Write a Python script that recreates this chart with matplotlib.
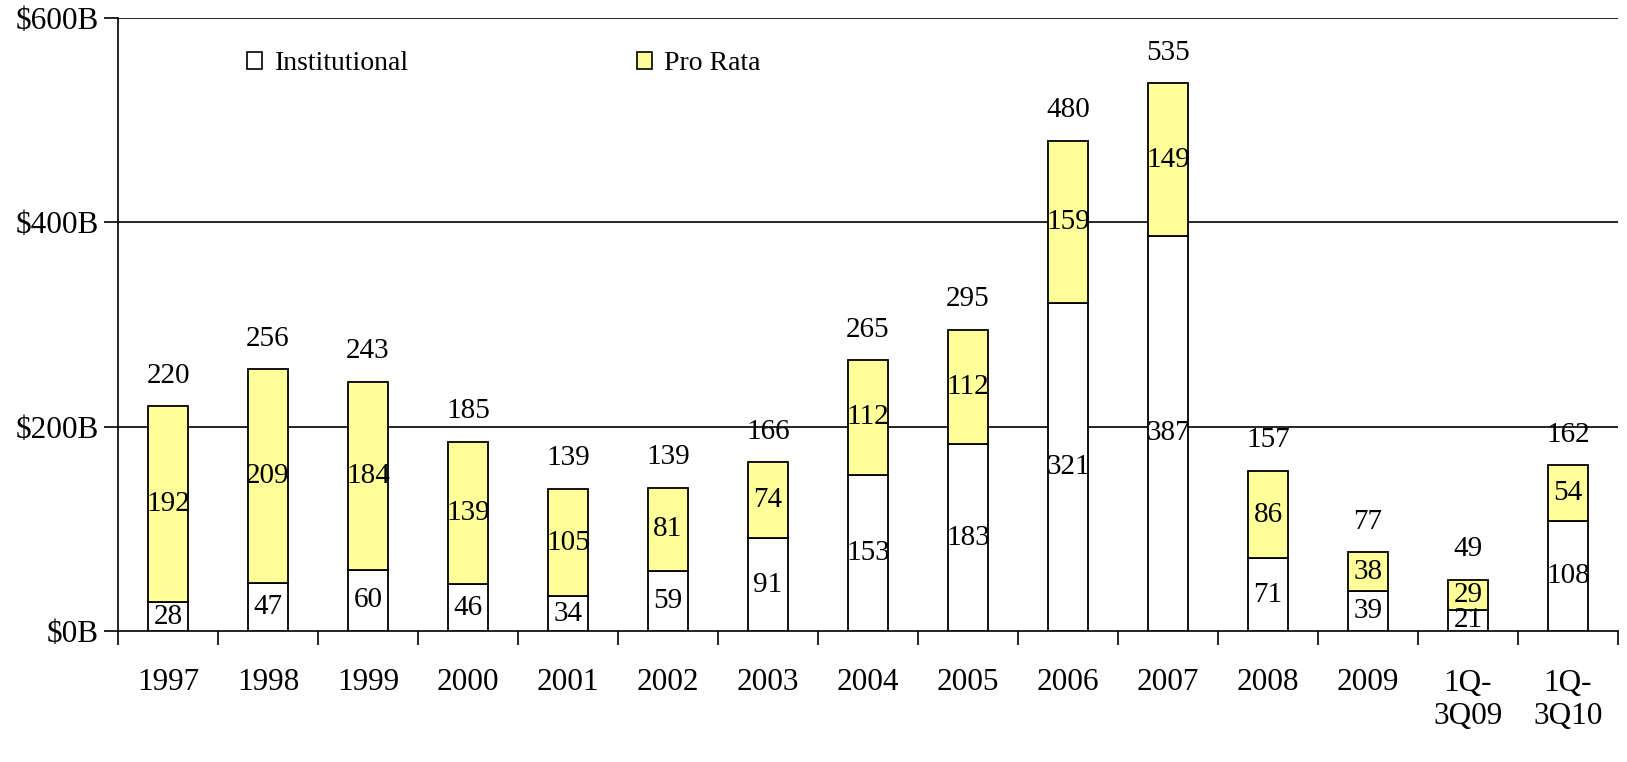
import matplotlib.pyplot as plt
from matplotlib.patches import Patch

plt.rcParams["font.family"] = ["Liberation Serif", "DejaVu Serif"]

# categories and values ($B)
periods = ["1997", "1998", "1999", "2000", "2001", "2002", "2003", "2004",
           "2005", "2006", "2007", "2008", "2009", "1Q-\n3Q09", "1Q-\n3Q10"]
institutional = [28, 47, 60, 46, 34, 59, 91, 153, 183, 321, 387, 71, 39, 21, 108]
pro_rata = [192, 209, 184, 139, 105, 81, 74, 112, 112, 159, 149, 86, 38, 29, 54]
totals = [220, 256, 243, 185, 139, 139, 166, 265, 295, 480, 535, 157, 77, 49, 162]

yellow = "#FFFF99"

fig = plt.figure(figsize=(16.27, 7.62), dpi=100)
ax = fig.add_axes([118 / 1627, 131 / 762, 1500 / 1627, 613 / 762])

x = list(range(len(periods)))
ax.bar(x, institutional, width=0.4, color="white", edgecolor="black",
       linewidth=1.3, zorder=3)
ax.bar(x, pro_rata, width=0.4, bottom=institutional, color=yellow,
       edgecolor="black", linewidth=1.3, zorder=3)

# data labels
for i in x:
    ax.text(i, institutional[i] / 2, str(institutional[i]), ha="center",
            va="center", fontsize=21, zorder=5)
    ax.text(i, institutional[i] + pro_rata[i] / 2, str(pro_rata[i]),
            ha="center", va="center", fontsize=21, zorder=5)
    ax.text(i, institutional[i] + pro_rata[i] + 30, str(totals[i]),
            ha="center", va="center", fontsize=21, zorder=5)

ax.set_xlim(-0.5, len(periods) - 0.5)
ax.set_ylim(0, 600)
ax.set_yticks([0, 200, 400, 600])
ax.set_yticklabels(["$0B", "$200B", "$400B", "$600B"])
for v in [200, 400, 600]:
    ax.axhline(v, color="black", linewidth=1.2, zorder=1)

ax.set_xticks([i - 0.5 for i in range(len(periods) + 1)], minor=False)
ax.set_xticklabels([])
ax.set_xticks(x, minor=True)
ax.set_xticklabels(periods, minor=True, fontsize=22.5)
ax.tick_params(axis="x", which="minor", length=0, pad=27)
ax.tick_params(axis="x", which="major", length=10, width=1.2, direction="out")
ax.tick_params(axis="y", length=10, width=1.2, pad=4, labelsize=22.5)

for s in ["top", "right"]:
    ax.spines[s].set_visible(False)
ax.spines["left"].set_linewidth(1.2)
ax.spines["bottom"].set_linewidth(1.2)

handles = [Patch(facecolor="white", edgecolor="black", linewidth=1.2),
           Patch(facecolor=yellow, edgecolor="black", linewidth=1.2)]
fig.legend(handles, ["Institutional", "Pro Rata"], loc="center left",
           bbox_to_anchor=(247 / 1627, 1 - 64 / 762), ncol=2, frameon=False,
           fontsize=20, handlelength=0.55, handleheight=0.55,
           handletextpad=0.45, columnspacing=8.2, borderpad=0,
           borderaxespad=0)

fig.savefig("out.png", dpi=100)
